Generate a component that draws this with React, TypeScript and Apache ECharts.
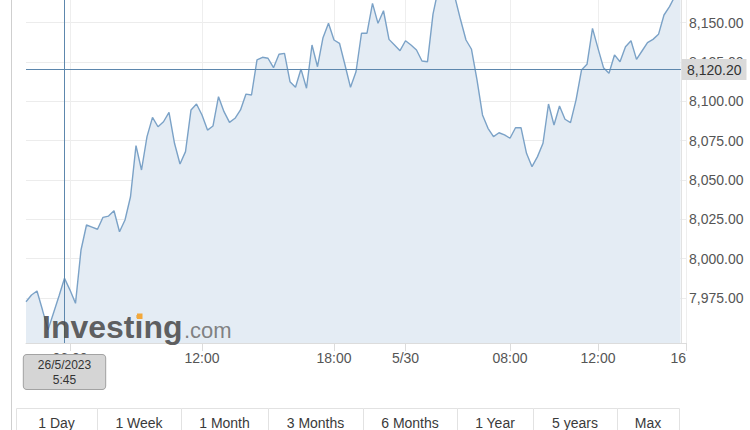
import React, { useEffect, useRef } from "react";
import * as echarts from "echarts";

// ---- data ----
const sessions = [
  { date: "26/5/2023", startMinutes: 4 * 60, count: 69 },
  { date: "30/5/2023", startMinutes: 3 * 60 + 15, count: 52 },
];
const stepMinutes = 15;

const prices = [
  7972.5, 7976.8, 7979.3, 7967.2, 7954.6, 7965.3, 7976.1, 7987.4, 7979.9, 7971.5,
  8005.4, 8021.3, 8020.0, 8018.6, 8026.2, 8027.0, 8030.4, 8017.0, 8024.5, 8039.3,
  8071.8, 8056.3, 8077.5, 8089.8, 8083.8, 8087.0, 8093.0, 8073.3, 8060.1, 8068.0,
  8094.5, 8098.3, 8091.3, 8081.7, 8084.3, 8102.9, 8093.4, 8086.6, 8089.2, 8094.5,
  8104.6, 8104.0, 8126.3, 8128.0, 8127.4, 8121.4, 8129.9, 8130.5, 8112.5, 8108.9,
  8120.5, 8108.3, 8135.8, 8122.0, 8140.5, 8149.6, 8139.0, 8136.9, 8123.1, 8108.9,
  8118.8, 8143.3, 8143.3, 8162.3, 8149.6, 8157.6, 8139.4, 8135.8, 8132.2, 8138.5,
  8135.8, 8132.6, 8125.6, 8125.2, 8155.5, 8172.0, 8176.0, 8173.0, 8166.0, 8152.0,
  8139.0, 8133.1, 8113.6, 8091.3, 8082.8, 8077.5, 8080.0, 8078.6, 8076.5, 8083.2,
  8083.2, 8066.9, 8058.4, 8064.8, 8073.3, 8098.3, 8084.9, 8097.0, 8088.6, 8086.4,
  8100.8, 8119.9, 8123.5, 8146.4, 8133.7, 8121.4, 8117.8, 8129.5, 8125.2, 8134.7,
  8138.5, 8126.7, 8132.0, 8137.3, 8139.4, 8142.6, 8154.9, 8160.2, 8167.0, 8171.0,
];

const tickCategories = [
  "26/5/2023 6:00",
  "26/5/2023 12:00",
  "26/5/2023 18:00",
  "30/5/2023 3:15",
  "30/5/2023 8:00",
  "30/5/2023 12:00",
  "30/5/2023 16:00",
];
const tickLabels = ["06:00", "12:00", "18:00", "5/30", "08:00", "12:00", "16"];

const yLabelMin = 7975;
const yLabelMax = 8150;
const yLabelStep = 25;
const plotMin = 7946.25;
const plotMax = 8164.44;

const cursorCategory = "26/5/2023 5:45";
const cursorPrice = 8120.2;

const rangeButtons = ["1 Day", "1 Week", "1 Month", "3 Months", "6 Months", "1 Year", "5 years", "Max"];

// ---- layout ----
const FONT = "'Liberation Sans', Arial, Helvetica, sans-serif";
const buttonEdges = [16, 97, 181, 268, 363, 457, 533, 617, 679];

const categories: string[] = [];
sessions.forEach((s) => {
  for (let k = 0; k < s.count; k++) {
    const m = s.startMinutes + k * stepMinutes;
    categories.push(`${s.date} ${Math.floor(m / 60)}:${String(m % 60).padStart(2, "0")}`);
  }
});
const tickIndexSet = new Set(tickCategories.map((c) => categories.indexOf(c)));
const isTick = (idx: number) => tickIndexSet.has(idx);

const fmt = (v: number) =>
  v.toLocaleString("en-US", { minimumFractionDigits: 2, maximumFractionDigits: 2 });

export default function App() {
  const ref = useRef<HTMLDivElement>(null);
  useEffect(() => {
    if (!ref.current) return;
    const chart = echarts.init(ref.current, undefined, { renderer: "svg" });

    const buttonGraphics: any[] = [];
    rangeButtons.forEach((label, i) => {
      const x0 = buttonEdges[i];
      const x1 = buttonEdges[i + 1];
      buttonGraphics.push({
        type: "rect",
        z: 50,
        shape: { x: x0 + 0.5, y: 408.5, width: x1 - x0, height: 30 },
        style: { fill: "#ffffff", stroke: "#e2e2e2", lineWidth: 1 },
      });
      buttonGraphics.push({
        type: "text",
        z: 51,
        x: (x0 + x1) / 2,
        y: 423,
        style: {
          text: label,
          fill: "#3a3a3a",
          fontSize: 14,
          fontFamily: FONT,
          align: "center",
          verticalAlign: "middle",
        },
      });
    });

    const option: any = {
      animation: false,
      textStyle: { fontFamily: FONT },
      grid: [
        { left: 26, right: 64, top: 0, bottom: 87 },
        { left: 26, right: 64, top: 22.7, bottom: 132.2 },
      ],
      xAxis: [
        {
          type: "category",
          gridIndex: 0,
          data: categories,
          boundaryGap: false,
          axisLine: { lineStyle: { color: "#dcdcdc" } },
          axisTick: { interval: isTick, length: 8, lineStyle: { color: "#dcdcdc" } },
          splitLine: { show: true, interval: isTick, lineStyle: { color: "#eeeeee" } },
          axisLabel: {
            interval: isTick,
            formatter: (v: string) => {
              const k = tickCategories.indexOf(v);
              return k >= 0 ? tickLabels[k] : "";
            },
            fontSize: 14,
            color: "#555555",
            margin: 8,
            alignMaxLabel: "right",
          },
        },
        { type: "category", gridIndex: 1, data: categories, boundaryGap: false, show: false },
      ],
      yAxis: [
        {
          type: "value",
          gridIndex: 0,
          min: plotMin,
          max: plotMax,
          show: false,
          splitLine: { show: false },
        },
        {
          type: "value",
          gridIndex: 1,
          position: "right",
          min: yLabelMin,
          max: yLabelMax,
          interval: yLabelStep,
          axisLine: { show: false },
          axisTick: { show: false },
          splitLine: { show: true, lineStyle: { color: "#ececec" } },
          axisLabel: { fontSize: 14, color: "#555555", margin: 3, formatter: (v: number) => fmt(v) },
        },
      ],
      series: [
        {
          type: "line",
          xAxisIndex: 0,
          yAxisIndex: 0,
          data: prices,
          symbol: "none",
          clip: true,
          lineStyle: { color: "#7ba2c7", width: 1.4 },
          areaStyle: { color: "#e4ecf4", opacity: 1 },
          markLine: {
            silent: true,
            symbol: ["none", "none"],
            animation: false,
            lineStyle: { color: "#5d87ad", width: 1, type: "solid" },
            emphasis: { disabled: true },
            data: [
              {
                xAxis: cursorCategory,
                label: {
                  show: true,
                  position: "start",
                  distance: 12,
                  formatter: cursorCategory.replace(" ", "\n"),
                  backgroundColor: "#d5d5d5",
                  borderColor: "#a3a3a3",
                  borderWidth: 1,
                  borderRadius: 3,
                  padding: [2, 14, 2, 14],
                  color: "#333333",
                  fontSize: 12,
                  lineHeight: 15,
                  align: "center",
                },
              },
              {
                yAxis: cursorPrice,
                label: {
                  show: true,
                  position: "end",
                  distance: -4,
                  formatter: fmt(cursorPrice),
                  backgroundColor: "#dadada",
                  padding: [3, 5, 3, 5],
                  color: "#333333",
                  fontSize: 14,
                  lineHeight: 15,
                },
              },
            ],
          },
        },
      ],
      graphic: [
        {
          type: "line",
          z: 50,
          shape: { x1: 11.5, y1: 0, x2: 11.5, y2: 430 },
          style: { stroke: "#cfcfcf", lineWidth: 1 },
        },
        {
          type: "line",
          z: 50,
          shape: { x1: 681.5, y1: 0, x2: 681.5, y2: 343 },
          style: { stroke: "#e2e2e2", lineWidth: 1 },
        },
        {
          type: "text",
          z: 100,
          x: 42,
          y: 327,
          style: {
            text: "Investing",
            fill: "rgba(70,70,70,0.85)",
            fontSize: 32,
            fontWeight: "bold",
            fontFamily: FONT,
            align: "left",
            verticalAlign: "middle",
          },
        },
        {
          type: "text",
          z: 100,
          x: 184,
          y: 330.5,
          style: {
            text: ".com",
            fill: "rgba(110,110,110,0.85)",
            fontSize: 22,
            fontFamily: FONT,
            align: "left",
            verticalAlign: "middle",
          },
        },
        {
          type: "rect",
          z: 101,
          shape: { x: 137, y: 313.5, width: 5.5, height: 5.5 },
          style: { fill: "#f3a83b" },
        },
        ...buttonGraphics,
      ],
    };
    chart.setOption(option);
    return () => chart.dispose();
  }, []);

  return (
    <div
      ref={ref}
      style={{ position: "absolute", left: 0, top: 0, width: 750, height: 430, background: "#ffffff" }}
    />
  );
}
